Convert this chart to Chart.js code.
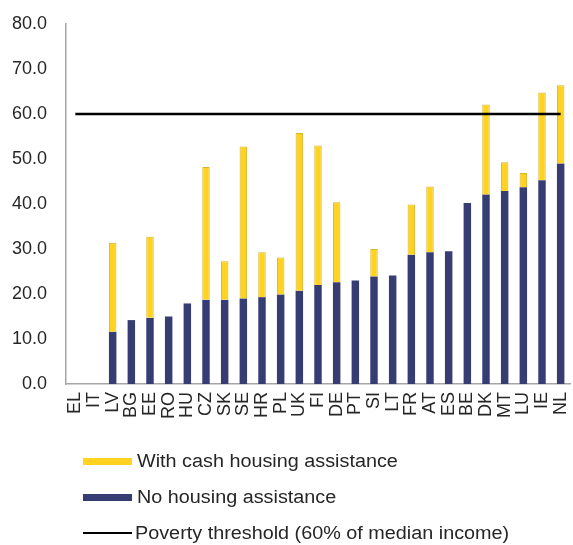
<!DOCTYPE html>
<html>
<head>
<meta charset="utf-8">
<script src="https://cdn.jsdelivr.net/npm/chart.js@4"></script>
<style>
  body { margin: 0; background: #fff; font-family: "Liberation Sans", Arial, sans-serif; }
  #wrap { position: relative; width: 573px; height: 545px; }
  #chartBox { position: absolute; left: 0; top: 0; width: 573px; height: 446px; }
  #legend { position: absolute; left: 83px; top: 443px; }
  .item { display: flex; align-items: center; height: 36px; color: #262626; font-size: 18px; }
  .swatch { width: 49px; height: 7px; margin-right: 5px; }
  .lineSwatch { width: 49px; height: 2px; margin-right: 3px; background: #000; }
  .label { transform: scaleX(1.1); transform-origin: left center; white-space: nowrap; }
</style>
</head>
<body>
<div id="wrap">
  <div id="chartBox"><canvas id="povertyChart"></canvas></div>
  <div id="legend"></div>
</div>
<script>
// Countries (x axis)
const countries = ['EL', 'IT', 'LV', 'BG', 'EE', 'RO', 'HU', 'CZ', 'SK', 'SE', 'HR', 'PL', 'UK', 'FI',
    'DE', 'PT', 'SI', 'LT', 'FR', 'AT', 'ES', 'BE', 'DK', 'MT', 'LU', 'IE', 'NL'];

// Share with no housing assistance
const noHousing = [null, null, 11.6, 14.2, 14.7, 15.0, 17.9, 18.7, 18.7, 19.0, 19.3, 19.9, 20.7, 22.0,
    22.6, 23.0, 23.9, 24.1, 28.7, 29.3, 29.5, 40.2, 42.1, 42.9, 43.7, 45.3, 49.0];

// Total with cash housing assistance (null = not shown)
const withCash = [null, null, 31.4, null, 32.7, null, null, 48.2, 27.3, 52.8, 29.3, 28.1, 55.8, 53.0,
    40.4, null, 30.0, null, 39.9, 43.9, null, null, 62.1, 49.3, 46.9, 64.8, 66.4];

const thresholdValue = 60;
const yTicks = [0, 10, 20, 30, 40, 50, 60, 70, 80];

const tickColor = '#262626';
const axisColor = '#a6a6a6';

// yellow part runs from the navy top to the total
const cashRange = withCash.map((v, i) => v === null ? null : [noHousing[i], v]);

const data = {
    labels: countries,
    datasets: [{
        type: 'line',
        label: 'Poverty threshold (60% of median income)',
        data: countries.map(() => thresholdValue),
        borderColor: '#000000',
        borderWidth: 2.5,
        pointRadius: 0,
        order: 0
    }, {
        label: 'With cash housing assistance',
        data: cashRange,
        backgroundColor: '#ffd320',
        borderColor: '#d9b42a',
        borderWidth: 1,
        grouped: false,
        categoryPercentage: 1,
        barPercentage: 0.4,
        order: 1
    }, {
        label: 'No housing assistance',
        data: noHousing,
        backgroundColor: '#363d72',
        borderWidth: 0,
        grouped: false,
        categoryPercentage: 1,
        barPercentage: 0.4,
        order: 2
    }]
};

const config = {
    type: 'bar',
    data: data,
    options: {
        responsive: false,
        animation: false,
        maintainAspectRatio: false,
        layout: {
            padding: { top: 24, right: 3, left: 0, bottom: 0 }
        },
        plugins: {
            legend: { display: false },
            tooltip: { enabled: false }
        },
        scales: {
            x: {
                grid: { display: false, drawTicks: false },
                border: { display: true, color: axisColor, width: 1.5 },
                ticks: {
                    color: tickColor,
                    font: { family: 'Liberation Sans', size: 18 },
                    minRotation: 90,
                    maxRotation: 90,
                    autoSkip: false,
                    padding: 8
                },
                afterFit: function(scale) {
                    scale.height = 62;
                    scale.paddingLeft = 0;
                    scale.paddingRight = 0;
                }
            },
            y: {
                min: 0,
                max: 80,
                grid: { display: false, drawTicks: false },
                border: { display: true, color: axisColor, width: 1.5 },
                afterBuildTicks: function(scale) {
                    scale.ticks = yTicks.map(v => ({ value: v }));
                },
                ticks: {
                    color: tickColor,
                    font: { family: 'Liberation Sans', size: 18 },
                    padding: 19,
                    callback: function(value) { return Number(value).toFixed(1); }
                },
                afterFit: function(scale) {
                    scale.width = 66;
                    scale.paddingTop = 0;
                    scale.paddingBottom = 0;
                }
            }
        }
    }
};

const canvas = document.getElementById('povertyChart');
canvas.width = 573;
canvas.height = 446;
const povertyChart = new Chart(canvas, config);

// Legend as a vertical list below the chart
const legendOrder = [1, 2, 0];
const legendBox = document.getElementById('legend');
legendOrder.forEach(idx => {
    const ds = povertyChart.data.datasets[idx];
    const row = document.createElement('div');
    row.className = 'item';
    const sw = document.createElement('div');
    if (ds.type === 'line') {
        sw.className = 'lineSwatch';
    } else {
        sw.className = 'swatch';
        sw.style.background = ds.backgroundColor;
    }
    const txt = document.createElement('span');
    txt.className = 'label';
    txt.textContent = ds.label;
    row.appendChild(sw);
    row.appendChild(txt);
    legendBox.appendChild(row);
});
</script>
</body>
</html>
